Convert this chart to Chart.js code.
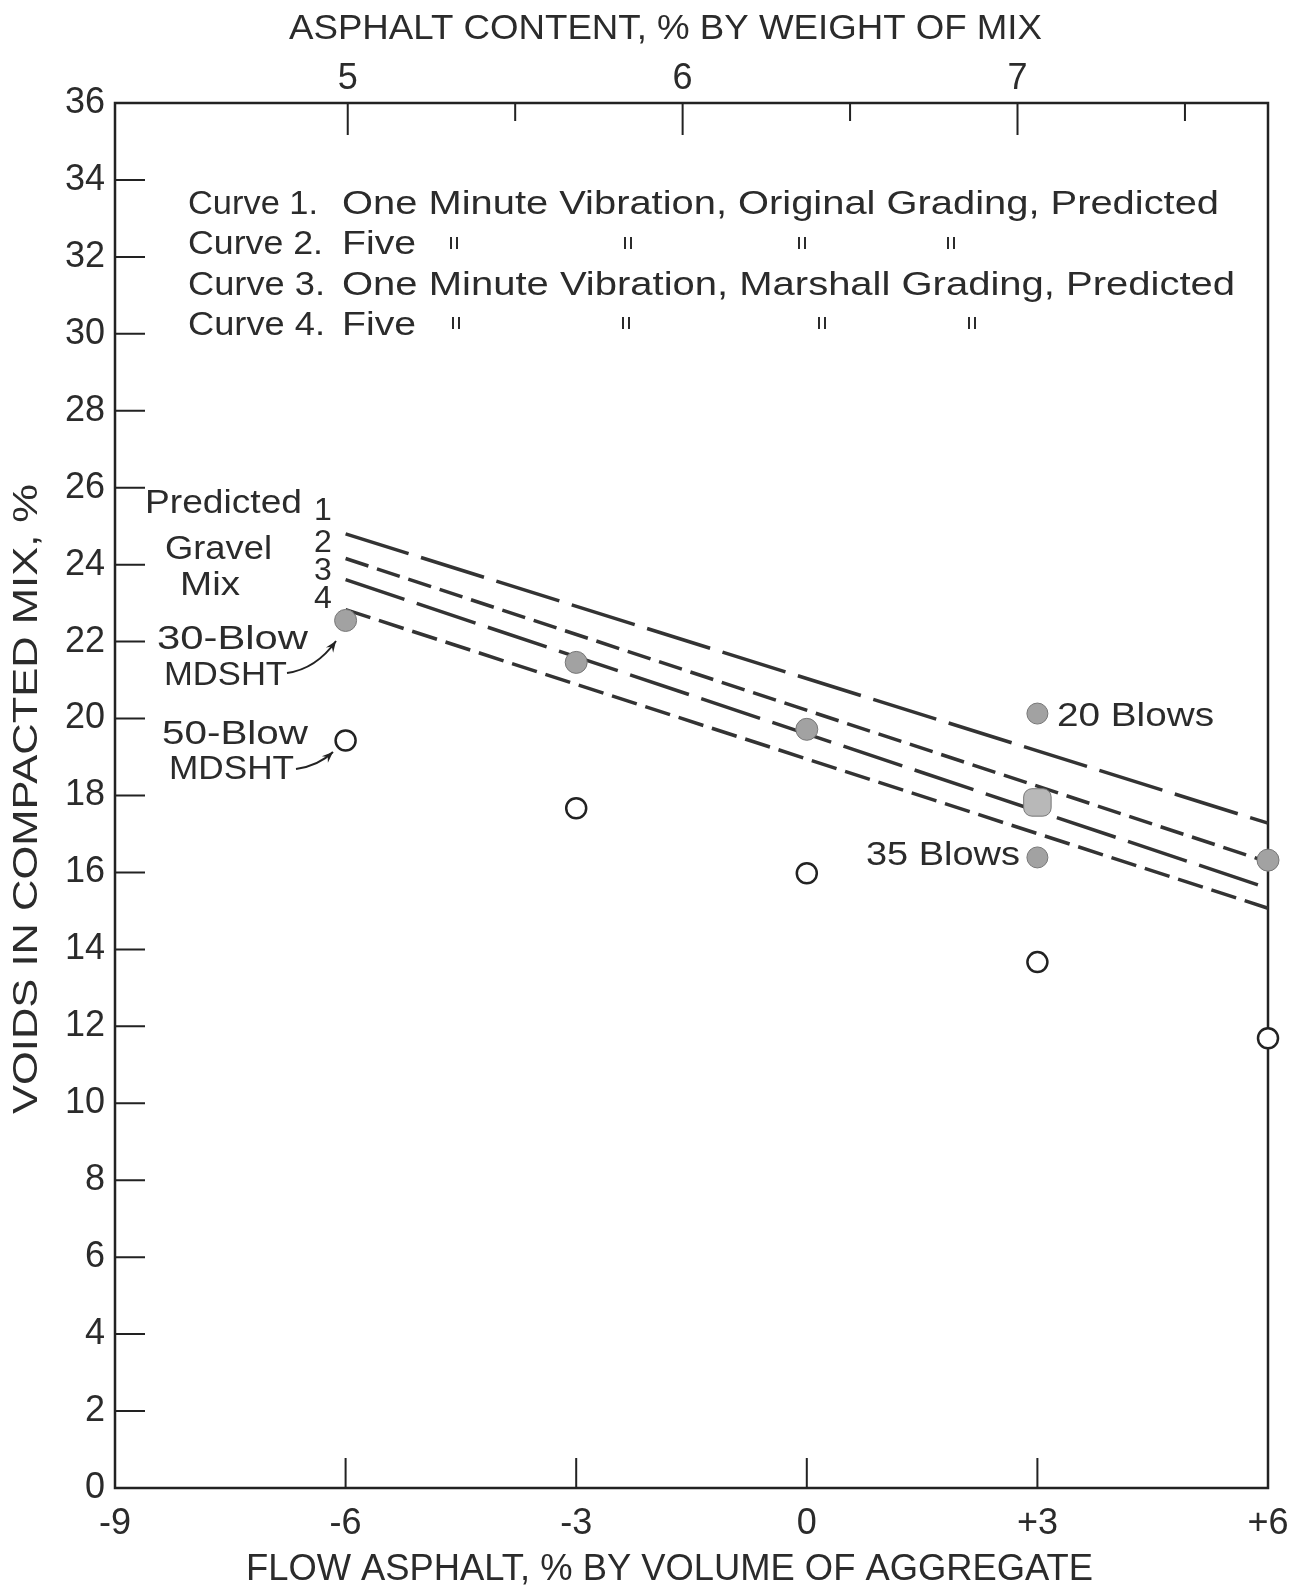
<!DOCTYPE html>
<html><head><meta charset="utf-8">
<script src="https://cdn.jsdelivr.net/npm/chart.js@4.4.1/dist/chart.umd.min.js"></script>
<style>html,body{margin:0;padding:0;background:#fff;}</style>
</head><body>
<canvas id="c" width="1294" height="1591" style="display:block;width:1294px;height:1591px"></canvas>
<script>
// ---- data ----
const flowTicks = [-9, -6, -3, 0, 3, 6];          // bottom axis: flow asphalt, % by volume
const contentTicks = [5, 5.5, 6, 6.5, 7, 7.5];    // top axis: asphalt content, % by weight
const voidTicks = [0,2,4,6,8,10,12,14,16,18,20,22,24,26,28,30,32,34,36];
const curveX = [-6, 6];
const curve1Y = [24.80, 17.28];
const curve2Y = [24.16, 16.27];
const curve3Y = [23.61, 15.59];
const curve4Y = [22.83, 15.07];
const blow30X = [-6, -3, 0, 3, 6];
const blow30Y = [22.55, 21.46, 19.72, 17.82, 16.32];
const blow50X = [-6, -3, 0, 3, 6];
const blow50Y = [19.43, 17.67, 15.98, 13.67, 11.69];
const blowsX = [3, 3];
const blowsY = [20.13, 16.39];

const FONT = '"Liberation Sans", Arial, sans-serif';
const TEXT = '#2b2b2b';
const INK = '#222';

function pts(xs, ys) { return xs.map((x, i) => ({ x: x, y: ys[i] })); }

function txt(ctx, s, x, y, size, width, align) {
  ctx.save();
  ctx.font = size + 'px ' + FONT;
  ctx.fillStyle = TEXT;
  ctx.textBaseline = 'middle';
  ctx.textAlign = align || 'left';
  const w = ctx.measureText(s).width;
  const k = width ? width / w : 1;
  ctx.translate(x, y);
  ctx.scale(k, 1);
  ctx.fillText(s, 0, 0);
  ctx.restore();
}

function ditto(ctx, x, y) {
  ctx.save();
  ctx.strokeStyle = TEXT; ctx.lineWidth = 2;
  ctx.beginPath();
  ctx.moveTo(x - 3, y - 6); ctx.lineTo(x - 3, y + 6);
  ctx.moveTo(x + 3, y - 6); ctx.lineTo(x + 3, y + 6);
  ctx.stroke();
  ctx.restore();
}

function arrow(ctx, x0, y0, cx, cy, x1, y1) {
  ctx.save();
  ctx.strokeStyle = INK; ctx.fillStyle = INK; ctx.lineWidth = 2;
  ctx.beginPath(); ctx.moveTo(x0, y0); ctx.quadraticCurveTo(cx, cy, x1, y1); ctx.stroke();
  const a = Math.atan2(y1 - cy, x1 - cx);
  const L = 12, s = 0.38;
  ctx.beginPath();
  ctx.moveTo(x1, y1);
  ctx.lineTo(x1 - L * Math.cos(a - s), y1 - L * Math.sin(a - s));
  ctx.lineTo(x1 - L * 0.6 * Math.cos(a), y1 - L * 0.6 * Math.sin(a));
  ctx.lineTo(x1 - L * Math.cos(a + s), y1 - L * Math.sin(a + s));
  ctx.closePath(); ctx.fill();
  ctx.restore();
}

const framePlugin = {
  id: 'frame',
  beforeDatasetsDraw(chart) {
    const ctx = chart.ctx, a = chart.chartArea;
    const sx = chart.scales.x, sx2 = chart.scales.x2, sy = chart.scales.y;
    ctx.save();
    ctx.strokeStyle = INK;
    ctx.lineWidth = 2.5;
    ctx.strokeRect(a.left, a.top, a.right - a.left, a.bottom - a.top);
    ctx.lineWidth = 2;
    ctx.beginPath();
    voidTicks.forEach(v => {
      if (v === 0 || v === 36) return;
      const y = sy.getPixelForValue(v);
      ctx.moveTo(a.left, y); ctx.lineTo(a.left + 30, y);
    });
    flowTicks.forEach(v => {
      if (v === -9 || v === 6) return;
      const x = sx.getPixelForValue(v);
      ctx.moveTo(x, a.bottom); ctx.lineTo(x, a.bottom - 30);
    });
    contentTicks.forEach(v => {
      const x = sx2.getPixelForValue(v);
      const len = Number.isInteger(v) ? 32 : 18;
      ctx.moveTo(x, a.top); ctx.lineTo(x, a.top + len);
    });
    ctx.stroke();
    ctx.restore();
  },
  afterDraw(chart) {
    const ctx = chart.ctx;
    // axis titles
    txt(ctx, 'ASPHALT CONTENT, % BY WEIGHT OF MIX', 289, 29, 35, 753);
    txt(ctx, 'FLOW ASPHALT, % BY VOLUME OF AGGREGATE', 246, 1570, 36, 847);
    ctx.save();
    ctx.font = '35px ' + FONT; ctx.fillStyle = TEXT; ctx.textBaseline = 'middle'; ctx.textAlign = 'center';
    const ys = 'VOIDS IN COMPACTED MIX, %';
    const w = ctx.measureText(ys).width;
    ctx.translate(27, 799); ctx.rotate(-Math.PI / 2); ctx.scale(630 / w, 1);
    ctx.fillText(ys, 0, 0);
    ctx.restore();
    // legend block
    txt(ctx, 'Curve 1.', 188, 205, 34, 130);
    txt(ctx, 'One Minute Vibration, Original Grading, Predicted', 342, 205, 34, 877);
    txt(ctx, 'Curve 2.', 188, 245, 34, 135);
    txt(ctx, 'Five', 342, 245, 34, 74);
    [454, 628, 802, 951].forEach(x => ditto(ctx, x, 243));
    txt(ctx, 'Curve 3.', 188, 286, 34, 137);
    txt(ctx, 'One Minute Vibration, Marshall Grading, Predicted', 342, 286, 34, 893);
    txt(ctx, 'Curve 4.', 188, 326, 34, 137);
    txt(ctx, 'Five', 342, 326, 34, 74);
    [456, 626, 822, 972].forEach(x => ditto(ctx, x, 323));
    // left annotations
    txt(ctx, 'Predicted', 145, 504, 33, 157);
    txt(ctx, 'Gravel', 165, 550, 33, 107);
    txt(ctx, 'Mix', 180, 586, 33, 60);
    txt(ctx, '30-Blow', 157, 640, 33, 151);
    txt(ctx, 'MDSHT', 164, 676, 33, 123);
    txt(ctx, '50-Blow', 162, 735, 33, 146);
    txt(ctx, 'MDSHT', 169, 770, 33, 125);
    txt(ctx, '1', 323, 511, 32, null, 'center');
    txt(ctx, '2', 323, 543, 32, null, 'center');
    txt(ctx, '3', 323, 571, 32, null, 'center');
    txt(ctx, '4', 323, 599, 32, null, 'center');
    // point labels
    txt(ctx, '20 Blows', 1057, 717, 33, 157);
    txt(ctx, '35 Blows', 866, 856, 33, 154);
    // arrows
    arrow(ctx, 287, 673, 316, 669, 336, 641);
    arrow(ctx, 296, 769, 318, 766, 333, 752);
  }
};

const lineDs = (label, ys, dash) => ({
  type: 'line', label: label, data: pts(curveX, ys), showLine: true,
  borderColor: '#333', borderWidth: 3.5, borderDash: dash, pointRadius: 0,
  fill: false, order: 10, clip: false
});

new Chart(document.getElementById('c'), {
  type: 'scatter',
  data: {
    datasets: [
      lineDs('Curve 1', curve1Y, [66, 13]),
      lineDs('Curve 2', curve2Y, [24, 9]),
      lineDs('Curve 3', curve3Y, [62, 13]),
      lineDs('Curve 4', curve4Y, [26, 9]),
      {
        label: '30-Blow MDSHT', data: pts(blow30X, blow30Y), order: 1, clip: false,
        pointStyle: c => c.dataIndex === 3 ? 'rectRounded' : 'circle',
        pointRadius: c => c.dataIndex === 3 ? 16 : 11,
        backgroundColor: c => c.dataIndex === 3 ? '#b8b8b8' : '#a2a2a2',
        borderColor: '#777', borderWidth: 1
      },
      {
        label: 'Blows', data: pts(blowsX, blowsY), order: 1, clip: false,
        pointStyle: 'circle', pointRadius: 10.5,
        backgroundColor: '#a2a2a2', borderColor: '#777', borderWidth: 1
      },
      {
        label: '50-Blow MDSHT', data: pts(blow50X, blow50Y), order: 1, clip: false,
        pointStyle: 'circle', pointRadius: 10,
        backgroundColor: '#fff', borderColor: INK, borderWidth: 2.5
      }
    ]
  },
  options: {
    responsive: false, animation: false, devicePixelRatio: 1,
    layout: { padding: { left: 0, right: 26, top: 0, bottom: 0 } },
    plugins: { legend: { display: false }, tooltip: { enabled: false } },
    scales: {
      x: {
        type: 'linear', position: 'bottom', min: -9, max: 6,
        afterBuildTicks: s => { s.ticks = flowTicks.map(v => ({ value: v })); },
        afterFit: s => { s.height = 103; s.paddingLeft = 0; s.paddingRight = 0; },
        grid: { display: false, drawTicks: false }, border: { display: false },
        ticks: { padding: 14, autoSkip: false, maxRotation: 0, color: TEXT,
          font: { family: FONT, size: 36 },
          callback: v => v > 0 ? '+' + v : String(v) }
      },
      x2: {
        type: 'linear', position: 'top', min: 4.305, max: 7.748,
        afterBuildTicks: s => { s.ticks = contentTicks.map(v => ({ value: v })); },
        afterFit: s => { s.height = 103; s.paddingLeft = 0; s.paddingRight = 0; },
        grid: { display: false, drawTicks: false }, border: { display: false },
        ticks: { padding: 2, autoSkip: false, maxRotation: 0, color: TEXT,
          font: { family: FONT, size: 36 },
          callback: v => Number.isInteger(v) ? String(v) : '' }
      },
      y: {
        type: 'linear', position: 'left', min: 0, max: 36,
        afterBuildTicks: s => { s.ticks = voidTicks.map(v => ({ value: v })); },
        afterFit: s => { s.width = 115; s.paddingTop = 0; s.paddingBottom = 0; },
        grid: { display: false, drawTicks: false }, border: { display: false },
        ticks: { padding: 10, autoSkip: false, color: TEXT,
          font: { family: FONT, size: 36 } }
      }
    }
  },
  plugins: [framePlugin]
});
</script>
</body></html>
